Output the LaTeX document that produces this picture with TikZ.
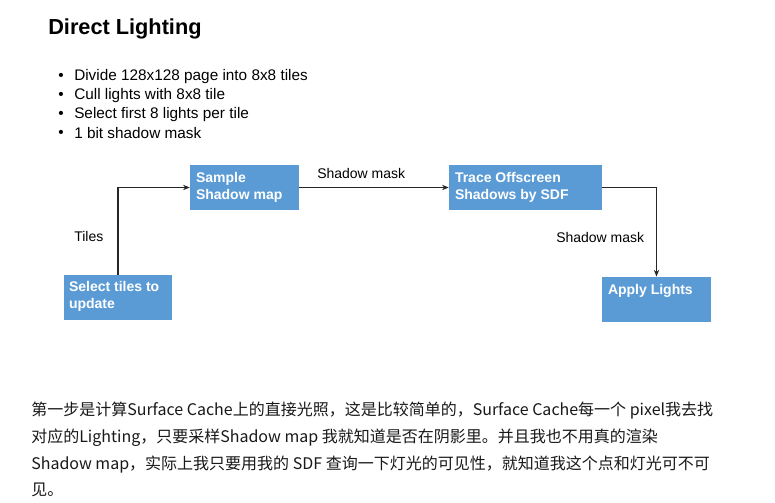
\documentclass[tikz,border=0pt]{standalone}
\usepackage{fontspec}
\setmainfont{Liberation Sans}
\newfontfamily\cjk{Noto Sans CJK SC}
\usetikzlibrary{arrows.meta,calc}
\definecolor{boxblue}{RGB}{91,155,213}
\definecolor{txt}{RGB}{25,25,25}
\begin{document}
\begin{tikzpicture}[x=0.75pt,y=-0.75pt,
  box/.style={draw=none,fill=boxblue,minimum width=#1,minimum height=34pt,inner sep=0pt},
  boxtext/.style={anchor=north west,inner sep=0pt,text=white,font=\fontsize{10.5}{12.5}\selectfont\bfseries,align=left},
  lbl/.style={inner sep=0pt,font=\fontsize{10.5}{12}\selectfont},
  conn/.style={draw=black!85,line width=0.9pt,-{Stealth[length=5pt,width=4pt]}},
  bullet/.style={anchor=west,inner sep=0pt,font=\fontsize{11.5}{14}\selectfont}]
\useasboundingbox (0,0) rectangle (775,503);
\fill[white] (0,0) rectangle (775,503);
% title
\node[anchor=base west,inner sep=0pt,font=\fontsize{16.3}{19}\selectfont\bfseries] (title) at (48,35) {Direct Lighting};
% bullets
\foreach \t [count=\i] in {Divide 128x128 page into 8x8 tiles,Cull lights with 8x8 tile,Select first 8 lights per tile,1 bit shadow mask}{
  \node[bullet] (b\i) at (74,{57.5+19*\i}) {\t};
  \node[bullet] (d\i) at (58,{57.5+19*\i}) {\textbullet};
}
% boxes
\node[box=81.75pt] (sample) at (244.5,187.5) {};
\node[boxtext] (sampletxt) at ($(sample.north west)+(6,7.5)$) {Sample\\Shadow map};
\node[box=114.75pt] (trace) at (525.5,187.5) {};
\node[boxtext] (tracetxt) at ($(trace.north west)+(6,7.5)$) {Trace Offscreen\\Shadows by SDF};
\node[box=81pt] (select) at (118,297.5) {};
\node[boxtext] (selecttxt) at ($(select.north west)+(5,7)$) {Select tiles to\\update};
\node[box=81.75pt] (apply) at (656.5,299.5) {};
\node[boxtext] (applytxt) at ($(apply.north west)+(6,8)$) {Apply Lights};
% connectors
\draw[conn] (select.north) |- (sample.west);
\draw[conn] (sample.east) -- (trace.west);
\draw[conn] (trace.east) -| (apply.north);
\node[lbl,anchor=west] (l1) at (74,236) {Tiles};
\node[lbl,anchor=west] (l2) at (317,173) {Shadow mask};
\node[lbl,anchor=west] (l3) at (556,237) {Shadow mask};
% paragraph
\node[anchor=north west,inner sep=0pt,text=txt,align=left,font=\cjk\fontsize{12}{20}\selectfont] (para) at (31,402) {第一步是计算Surface Cache上的直接光照，这是比较简单的，Surface Cache每一个 pixel我去找\\对应的Lighting，只要采样Shadow map 我就知道是否在阴影里。并且我也不用真的渲染\\Shadow map，实际上我只要用我的 SDF 查询一下灯光的可见性，就知道我这个点和灯光可不可\\见。};
\end{tikzpicture}
\end{document}
